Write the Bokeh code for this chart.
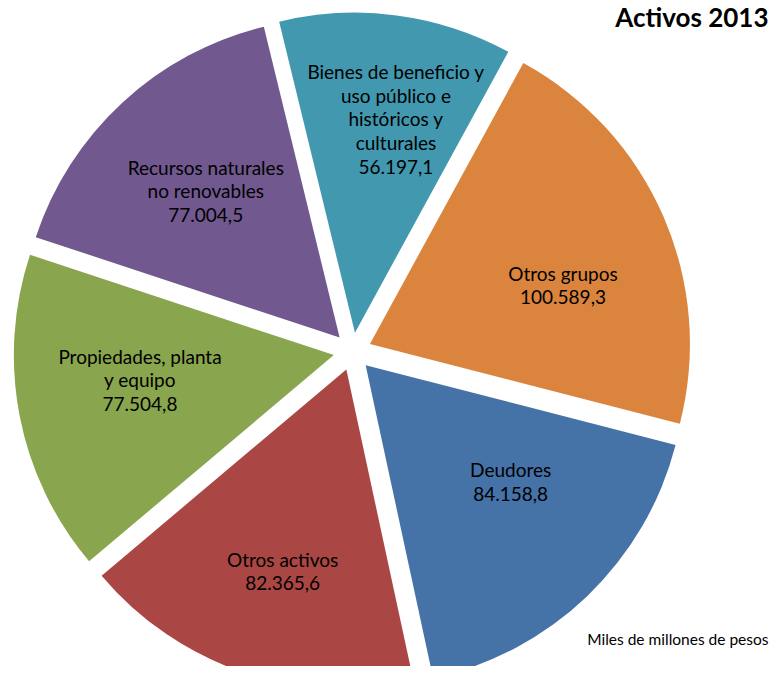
import math
from bokeh.plotting import figure
from bokeh.models import Range1d, ColumnDataSource
from bokeh.core.properties import value
from bokeh.embed import file_html
from bokeh.resources import INLINE

# ---------------- data ----------------
categories = [
    "Bienes de beneficio y\nuso público e\nhistóricos y\nculturales",
    "Otros grupos",
    "Deudores",
    "Otros activos",
    "Propiedades, planta\ny equipo",
    "Recursos naturales\nno renovables",
]
amounts = [56197.1, 100589.3, 84158.8, 82365.6, 77504.8, 77004.5]
colors = ["#4198AF", "#DB843D", "#4572A7", "#AA4643", "#89A54E", "#71588F"]
title_text = "Activos 2013"
note_text = "Miles de millones de pesos"

# ---------------- layout ----------------
W, H = 769, 666
CX, CY = 352, -351          # pie centre in plot units (1 unit = 1 px)
R = 320                     # radius
EXPLODE = 19                # explosion distance
START_DEG = -13.7           # first slice start, clockwise from 12 o'clock
label_frac = [0.74, 0.69, 0.64, 0.72, 0.67, 0.68]
label_shift = [3.1, 5.9, -6.7, -1.2, 3.3, 0.3]
FONT = "Lato"


def es_fmt(v):
    s = f"{v:,.1f}"
    return s.replace(",", "X").replace(".", ",").replace("X", ".")


total = sum(amounts)
xs, ys, sa, ea, lx, ly, texts = [], [], [], [], [], [], []
cum = 0.0
for i, v in enumerate(amounts):
    a0 = START_DEG + 360.0 * cum / total
    a1 = a0 + 360.0 * v / total
    cum += v
    mid = (a0 + a1) / 2.0
    m = math.radians(mid)
    xs.append(CX + EXPLODE * math.sin(m))
    ys.append(CY + EXPLODE * math.cos(m))
    sa.append(math.radians(90 - a1))
    ea.append(math.radians(90 - a0))
    la = math.radians(mid + label_shift[i])
    lr = label_frac[i] * R
    lx.append(CX + lr * math.sin(la))
    ly.append(CY + lr * math.cos(la))
    texts.append(categories[i] + "\n" + es_fmt(v))

src = ColumnDataSource(dict(x=xs, y=ys, sa=sa, ea=ea, color=colors))
lsrc = ColumnDataSource(dict(x=lx, y=ly, text=texts))

p = figure(width=W, height=H, x_range=Range1d(0, W), y_range=Range1d(-H, 0),
           output_backend="svg", toolbar_location=None, min_border=0)
p.axis.visible = False
p.grid.visible = False
p.outline_line_color = None
p.background_fill_color = "white"
p.border_fill_color = "white"

p.wedge(x="x", y="y", radius=R, start_angle="sa", end_angle="ea",
        fill_color="color", line_color=None, source=src)

p.text(x="x", y="y", text="text", source=lsrc, text_align="center",
       text_baseline="middle", text_font=value(FONT), text_font_size="19px",
       text_line_height=1.03, text_color="#000000")

p.text(x=[W - 1], y=[0], text=[title_text], text_align="right", text_baseline="top",
       text_font=value(FONT), text_font_style="bold", text_font_size="26px",
       text_color="#000000")

p.text(x=[W - 1], y=[-638], text=[note_text], text_align="right", text_baseline="middle",
       text_font=value(FONT), text_font_size="15.5px", text_color="#000000")

open("out.html", "w").write(file_html(p, INLINE))
